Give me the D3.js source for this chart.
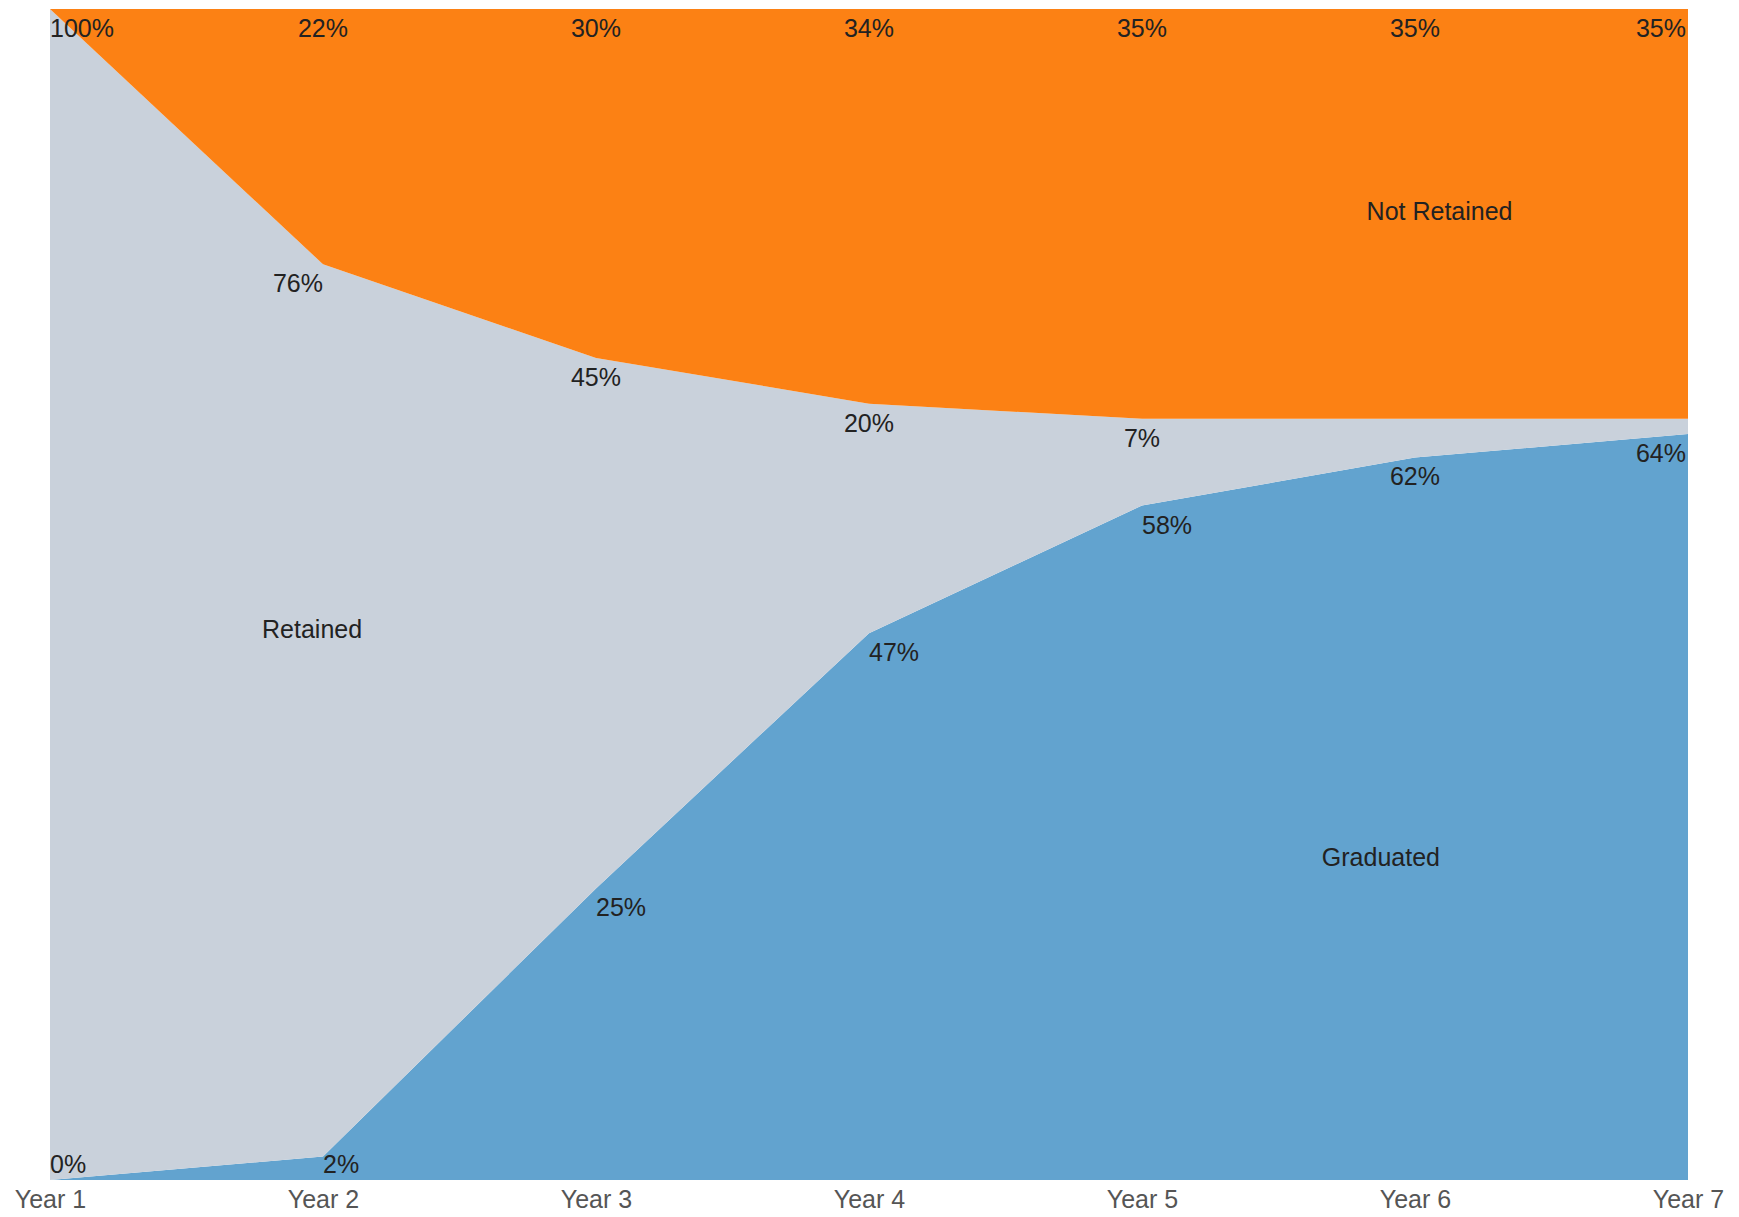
<!DOCTYPE html>
<html>
<head>
<meta charset="utf-8">
<script src="https://cdn.jsdelivr.net/npm/d3@7"></script>
<style>
  body { margin: 0; background: #fff; }
  svg { display: block; }
  text { font-family: "Liberation Sans", Arial, sans-serif; }
</style>
</head>
<body>
<svg id="chart"></svg>
<script>
const years = ['Year 1', 'Year 2', 'Year 3', 'Year 4', 'Year 5', 'Year 6', 'Year 7'];
const graduated = [0, 2.0, 24.9, 46.7, 57.6, 61.7, 63.7];
const retained = [100, 76.2, 45.3, 19.6, 7.4, 3.3, 1.3];
const notRetained = [0, 21.8, 29.8, 33.7, 35.0, 35.0, 35.0];
const seriesNames = ['Graduated', 'Retained', 'Not Retained'];
// series name labels: [year position (0 = Year 1), percent]
const namePos = [[4.875, 27.6], [0.96, 47], [5.09, 82.7]];

const svg = d3.select('#chart').attr('width', 1739).attr('height', 1217);
const margin = { top: 9, right: 51, bottom: 37, left: 50 };
const width = 1739 - margin.left - margin.right;
const height = 1217 - margin.top - margin.bottom;
const colors = { 'Graduated': '#62a3cf', 'Retained': '#c9d1db', 'Not Retained': '#fc8114' };

const g = svg.append('g').attr('transform', `translate(${margin.left},${margin.top})`);

const rows = years.map((y, i) => ({
  year: y,
  'Graduated': graduated[i],
  'Retained': retained[i],
  'Not Retained': notRetained[i]
}));

const stack = d3.stack().keys(seriesNames)(rows);

const x = d3.scalePoint().domain(years).range([0, width]);
const xPos = d3.scaleLinear().domain([0, years.length - 1]).range([0, width]);
const y = d3.scaleLinear().domain([0, 100]).range([height, 0]);

const area = d3.area()
  .x(d => x(d.data.year))
  .y0(d => y(d[0]))
  .y1(d => y(d[1]));

g.selectAll('path.layer')
  .data(stack)
  .enter()
  .append('path')
  .attr('class', 'layer')
  .attr('fill', d => colors[d.key])
  .attr('d', area);

// x axis
const xAxis = g.append('g')
  .attr('transform', `translate(0,${height})`)
  .call(d3.axisBottom(x).tickSize(0).tickPadding(10));
xAxis.select('.domain').remove();
xAxis.selectAll('text')
  .attr('font-size', 25)
  .attr('fill', '#555')
  .style('font-family', '"Liberation Sans", Arial, sans-serif');

// value labels, placed under the top edge of each band, shifted sideways when the edge runs through them
const fmt = d3.format('.0f');
const showLabel = {
  'Graduated': v => true,
  'Retained': v => v >= 5,
  'Not Retained': v => v > 0
};

stack.forEach(layer => {
  const tops = layer.map(d => [x(d.data.year), y(d[1])]);
  const edgeAt = px => {
    const cx = Math.max(0, Math.min(width, px));
    const i = Math.min(tops.length - 2, Math.floor(cx / x.step()));
    const t = (cx - tops[i][0]) / (tops[i + 1][0] - tops[i][0]);
    return tops[i][1] + t * (tops[i + 1][1] - tops[i][1]);
  };
  layer.forEach((d, i) => {
    const v = d.data[layer.key];
    if (!showLabel[layer.key](v)) return;
    const px = tops[i][0], py = tops[i][1];
    const base = Math.min(py + 28, height - 7);
    const limit = Math.min(base - 19, py + 6);
    const t = g.append('text')
      .attr('font-size', 25)
      .attr('fill', '#222')
      .attr('y', base)
      .text(fmt(v) + '%');
    const w = t.node().getComputedTextLength();
    const hits = (a, b) => d3.range(0, 11).some(k => edgeAt(a + (b - a) * k / 10) > limit);
    let left = px - w / 2;
    if (hits(px - w / 2, px + w / 2)) {
      if (!hits(px, px + w)) left = px;
      else if (!hits(px - w, px)) left = px - w;
      else left = px;
    }
    left = Math.max(0, Math.min(width - w - 2, left));
    t.attr('x', left);
  });
});

// series names
g.selectAll('text.name')
  .data(seriesNames)
  .enter()
  .append('text')
  .attr('class', 'name')
  .attr('x', (d, i) => xPos(namePos[i][0]))
  .attr('y', (d, i) => y(namePos[i][1]))
  .attr('dy', '0.35em')
  .attr('text-anchor', 'middle')
  .attr('font-size', 25)
  .attr('fill', '#222')
  .text(d => d);
</script>
</body>
</html>
